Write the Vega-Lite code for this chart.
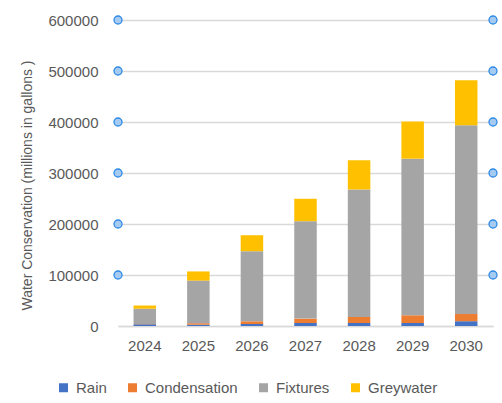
{
  "$schema": "https://vega.github.io/schema/vega-lite/v6.json",
  "width": 375,
  "height": 306,
  "autosize": {"type": "none"},
  "padding": {"left": 118, "top": 20, "right": 9, "bottom": 77},
  "background": "white",
  "config": {
    "view": {"stroke": null},
    "font": "Liberation Sans"
  },
  "datasets": {
    "bars": [
      {"year": "2024", "series": "Rain", "rank": 1, "value": 3500},
      {"year": "2024", "series": "Condensation", "rank": 2, "value": 500},
      {"year": "2024", "series": "Fixtures", "rank": 3, "value": 30000},
      {"year": "2024", "series": "Greywater", "rank": 4, "value": 6000},
      {"year": "2025", "series": "Rain", "rank": 1, "value": 2500},
      {"year": "2025", "series": "Condensation", "rank": 2, "value": 3000},
      {"year": "2025", "series": "Fixtures", "rank": 3, "value": 83500},
      {"year": "2025", "series": "Greywater", "rank": 4, "value": 18000},
      {"year": "2026", "series": "Rain", "rank": 1, "value": 3900},
      {"year": "2026", "series": "Condensation", "rank": 2, "value": 5300},
      {"year": "2026", "series": "Fixtures", "rank": 3, "value": 137500},
      {"year": "2026", "series": "Greywater", "rank": 4, "value": 31300},
      {"year": "2027", "series": "Rain", "rank": 1, "value": 5900},
      {"year": "2027", "series": "Condensation", "rank": 2, "value": 8600},
      {"year": "2027", "series": "Fixtures", "rank": 3, "value": 191000},
      {"year": "2027", "series": "Greywater", "rank": 4, "value": 44000},
      {"year": "2028", "series": "Rain", "rank": 1, "value": 5900},
      {"year": "2028", "series": "Condensation", "rank": 2, "value": 11800},
      {"year": "2028", "series": "Fixtures", "rank": 3, "value": 250000},
      {"year": "2028", "series": "Greywater", "rank": 4, "value": 57300},
      {"year": "2029", "series": "Rain", "rank": 1, "value": 5900},
      {"year": "2029", "series": "Condensation", "rank": 2, "value": 15100},
      {"year": "2029", "series": "Fixtures", "rank": 3, "value": 307000},
      {"year": "2029", "series": "Greywater", "rank": 4, "value": 73000},
      {"year": "2030", "series": "Rain", "rank": 1, "value": 9400},
      {"year": "2030", "series": "Condensation", "rank": 2, "value": 14300},
      {"year": "2030", "series": "Fixtures", "rank": 3, "value": 370000},
      {"year": "2030", "series": "Greywater", "rank": 4, "value": 88300}
    ],
    "handles": [
      {"side": 0, "level": 100000}, {"side": 1, "level": 100000},
      {"side": 0, "level": 200000}, {"side": 1, "level": 200000},
      {"side": 0, "level": 300000}, {"side": 1, "level": 300000},
      {"side": 0, "level": 400000}, {"side": 1, "level": 400000},
      {"side": 0, "level": 500000}, {"side": 1, "level": 500000},
      {"side": 0, "level": 600000}, {"side": 1, "level": 600000}
    ]
  },
  "layer": [
    {
      "data": {"name": "bars"},
      "mark": {"type": "bar"},
      "encoding": {
        "x": {
          "field": "year", "type": "ordinal",
          "scale": {"paddingInner": 0.58, "paddingOuter": 0.29},
          "axis": {
            "title": null, "labelAngle": 0, "labelFontSize": 15, "labelColor": "#595959",
            "ticks": false, "domainColor": "#d9d9d9", "domainWidth": 1.3, "labelPadding": 12
          }
        },
        "y": {
          "field": "value", "type": "quantitative", "stack": "zero",
          "scale": {"domain": [0, 600000], "nice": false},
          "axis": {
            "title": "Water Conservation (millions in gallons )",
            "titleFontSize": 14, "titleFontWeight": "normal", "titleColor": "#595959",
            "titleX": -84, "titleY": 165, "titleAngle": 270,
            "values": [0, 100000, 200000, 300000, 400000, 500000, 600000],
            "format": "d", "labelFontSize": 15, "labelColor": "#595959",
            "ticks": false, "domain": false, "labelPadding": 20,
            "grid": true, "gridColor": "#d9d9d9", "gridWidth": 1.3
          }
        },
        "order": {"field": "rank", "type": "quantitative", "sort": "ascending"},
        "color": {
          "field": "series", "type": "nominal",
          "sort": ["Rain", "Condensation", "Fixtures", "Greywater"],
          "scale": {
            "domain": ["Rain", "Condensation", "Fixtures", "Greywater"],
            "range": ["#4472C4", "#ED7D31", "#A5A5A5", "#FFC000"]
          },
          "legend": {
            "title": null, "orient": "none", "direction": "horizontal",
            "legendX": -62, "legendY": 360,
            "symbolType": "square", "symbolSize": 81, "symbolStrokeWidth": 0,
            "labelFontSize": 15, "labelColor": "#595959", "labelOffset": 5,
            "columnPadding": 18
          }
        }
      }
    },
    {
      "data": {"name": "handles"},
      "mark": {"type": "point", "filled": false, "fill": "#A6CBF2", "fillOpacity": 1, "stroke": "#2F8AE5", "strokeWidth": 1.3, "size": 64, "clip": false},
      "encoding": {
        "x": {"field": "side", "type": "quantitative", "scale": {"domain": [0, 1], "nice": false}, "axis": null},
        "y": {"field": "level", "type": "quantitative"}
      }
    }
  ],
  "resolve": {"scale": {"x": "independent"}, "axis": {"x": "independent"}}
}
